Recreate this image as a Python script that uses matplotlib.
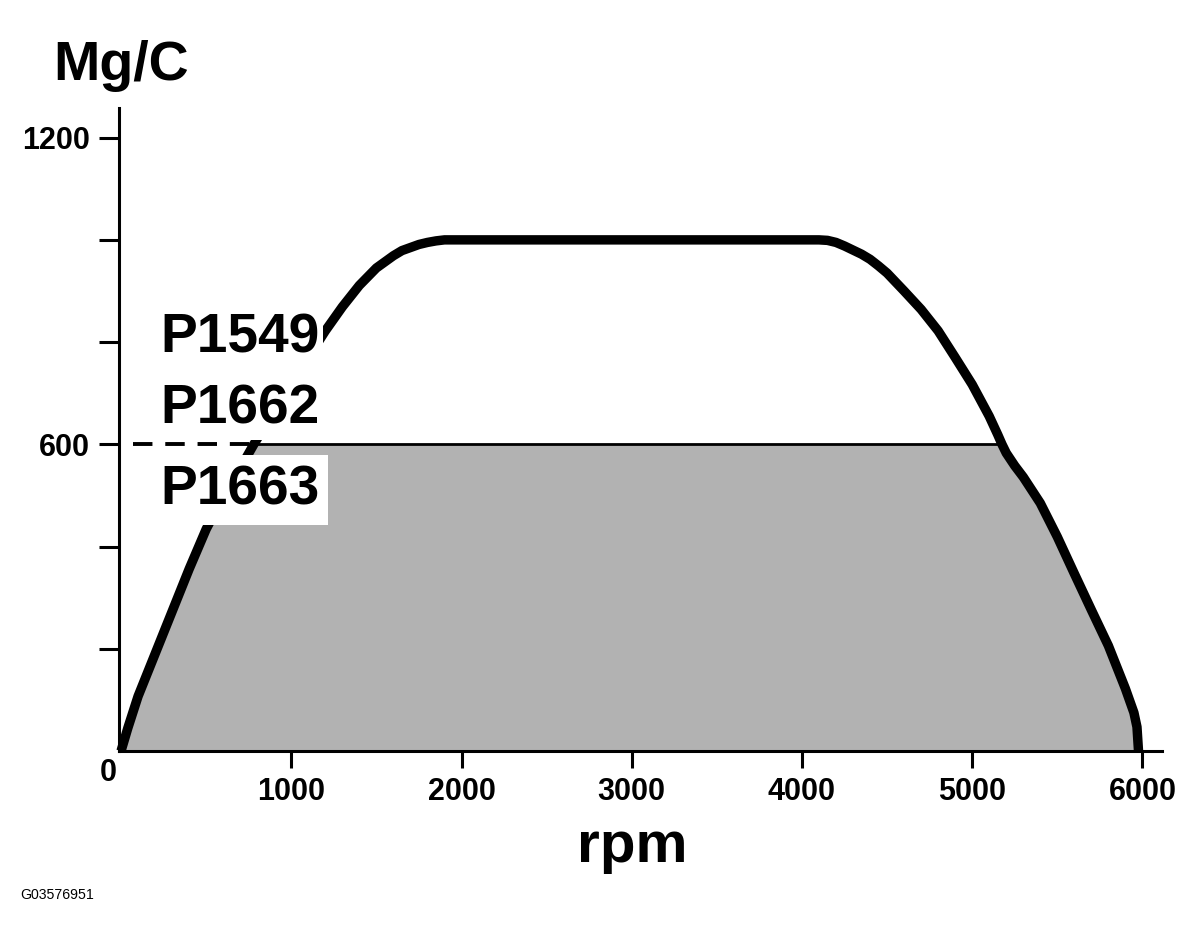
import matplotlib
matplotlib.use("Agg")
import matplotlib.pyplot as plt
import numpy as np

plt.rcParams['font.family'] = ['Liberation Sans', 'DejaVu Sans']

# ---- data ----
rpm = [0, 40, 100, 200, 300, 400, 500, 600, 700, 780, 900, 1000, 1100, 1200,
       1300, 1400, 1500, 1600, 1650, 1700, 1750, 1800, 1850, 1900, 2000, 3000,
       4000, 4100, 4150, 4200, 4250, 4300, 4350, 4400, 4450, 4500, 4600, 4700,
       4800, 4900, 5000, 5100, 5150, 5175, 5200, 5250, 5300, 5400, 5500, 5600,
       5700, 5800, 5900, 5950, 5968, 5977]
mgc = [0, 45, 107, 190, 273, 356, 434, 498, 553, 600, 665, 718, 770, 822,
       869, 911, 945, 969, 979, 985, 991, 995, 998, 1000, 1000, 1000,
       1000, 1000, 999, 995, 988, 980, 972, 962, 949, 935, 900, 864,
       822, 770, 717, 655, 619, 600, 583, 558, 536, 485, 419, 347,
       276, 206, 122, 75, 47, 0]
limit_value = 600
limit_start = 70      # dashed part starts near the y axis
limit_cross_lo = 780  # curve crosses the limit
limit_cross_hi = 5175
x_ticks = [1000, 2000, 3000, 4000, 5000, 6000]
x_tick_labels = ['1000', '2000', '3000', '4000', '5000', '6000']
y_ticks = [200, 400, 600, 800, 1000, 1200]
y_tick_labels = ['', '', '600', '', '', '1200']
codes_upper = ['P1549', 'P1662']
codes_lower = ['P1663']
code_upper_y = 640   # baseline of the last upper line
code_lower_y = 483

W, H = 1199, 942
fig = plt.figure(figsize=(W / 100, H / 100), dpi=100)
ax = fig.add_axes([119 / W, (H - 751) / H, 1043 / W, (751 - 108) / H])

x = np.array(rpm, dtype=float)
y = np.array(mgc, dtype=float)

ax.fill_between(x, 0, np.minimum(y, limit_value), color='#b2b2b2', lw=0, zorder=1)
ax.hlines(limit_value, limit_cross_lo, limit_cross_hi, color='black', lw=2.0, zorder=2)
ax.plot([limit_start, limit_cross_lo], [limit_value, limit_value], color='black',
        lw=2.8, dashes=(5, 3.3), zorder=2)
ax.plot(x, y, color='black', lw=6.8, solid_joinstyle='round', solid_capstyle='butt',
        zorder=3, clip_on=False)

ax.text(230, code_upper_y, '\n'.join(codes_upper), fontsize=39.7, fontweight='bold',
        ha='left', va='baseline', linespacing=1.48, zorder=5,
        bbox=dict(boxstyle='square,pad=0.07', fc='white', ec='none'))
ax.text(230, code_lower_y, '\n'.join(codes_lower), fontsize=39.7, fontweight='bold',
        ha='left', va='baseline', zorder=5,
        bbox=dict(boxstyle='square,pad=0.16', fc='white', ec='none'))

ax.set_xlim(-12, 6115)
ax.set_ylim(0, 1258)
for sp in ['top', 'right']:
    ax.spines[sp].set_visible(False)
for sp in ['left', 'bottom']:
    ax.spines[sp].set_linewidth(2.2)
    ax.spines[sp].set_zorder(6)

ax.set_xticks(x_ticks)
ax.set_xticklabels(x_tick_labels, fontsize=22, fontweight='bold')
ax.set_yticks(y_ticks)
ax.set_yticklabels(y_tick_labels, fontsize=22, fontweight='bold')
ax.tick_params(axis='x', direction='out', length=12.5, width=2.2, pad=6)
ax.tick_params(axis='y', direction='out', length=14.4, width=2.2, pad=6.5)

ax.text(-0.002, -0.011, '0', transform=ax.transAxes, fontsize=22, fontweight='bold',
        ha='right', va='top')

fig.text(53 / W, (H - 80) / H, 'Mg/C', fontsize=40, fontweight='bold', ha='left',
         va='baseline')
fig.text(632 / W, (H - 862) / H, 'rpm', fontsize=42, fontweight='bold', ha='center',
         va='baseline')
fig.text(20 / W, (H - 899) / H, 'G03576951', fontsize=10.2, ha='left', va='baseline')

fig.savefig('out.png', dpi=100, facecolor='white')
